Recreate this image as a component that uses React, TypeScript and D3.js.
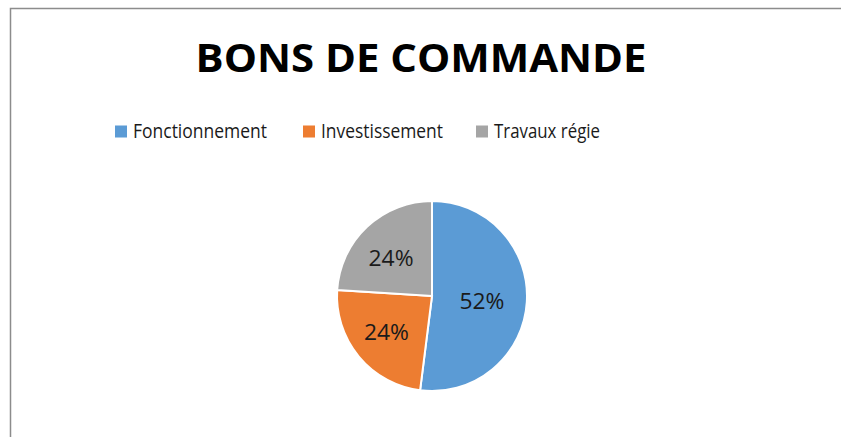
import React, { useRef, useEffect } from 'react';
import * as d3 from 'd3';

const categories = ['Fonctionnement', 'Investissement', 'Travaux régie'];
const values = [52, 24, 24];
const colors = ['#5B9BD5', '#ED7D31', '#A5A5A5'];
const title = 'BONS DE COMMANDE';

export default function App() {
  const svgRef = useRef<SVGSVGElement>(null);

  useEffect(() => {
    const width = 841;
    const height = 437;
    const svg = d3.select(svgRef.current);
    svg.selectAll('*').remove();
    svg.attr('width', width).attr('height', height);

    // chart frame (only top and left edges are visible in the crop)
    svg.append('rect').attr('width', width).attr('height', height).attr('fill', '#ffffff');
    svg.append('path')
      .attr('d', `M10.5,${height} V8.5 H${width}`)
      .attr('fill', 'none')
      .attr('stroke', '#8c8c8c')
      .attr('stroke-width', 1.5);

    // title
    svg.append('text')
      .attr('x', 421)
      .attr('y', 72)
      .attr('text-anchor', 'middle')
      .attr('font-family', '"Open Sans", sans-serif')
      .attr('font-weight', 700)
      .attr('font-size', 40)
      .attr('fill', '#000')
      .attr('textLength', 451)
      .attr('lengthAdjust', 'spacingAndGlyphs')
      .text(title);

    // legend
    const legendX = [115, 303, 476];
    const legendW = [134, 122, 106];
    const legend = svg.append('g');
    categories.forEach((c, i) => {
      legend.append('rect')
        .attr('x', legendX[i])
        .attr('y', 125.5)
        .attr('width', 12)
        .attr('height', 12)
        .attr('fill', colors[i]);
      legend.append('text')
        .attr('x', legendX[i] + 18)
        .attr('y', 138)
        .attr('font-family', '"Open Sans", sans-serif')
        .attr('font-size', 19.5)
        .attr('fill', '#1a1a1a')
        .attr('textLength', legendW[i])
        .attr('lengthAdjust', 'spacingAndGlyphs')
        .text(c);
    });

    // pie
    const cx = 432;
    const cy = 296;
    const r = 95;
    const pie = d3.pie<number>().sort(null).value(d => d);
    const arcs = pie(values);
    const arc = d3.arc<d3.PieArcDatum<number>>().innerRadius(0).outerRadius(r);
    const labelArc = d3.arc<d3.PieArcDatum<number>>().innerRadius(54).outerRadius(54);

    const g = svg.append('g').attr('transform', `translate(${cx},${cy})`);
    g.selectAll('path.slice')
      .data(arcs)
      .enter()
      .append('path')
      .attr('class', 'slice')
      .attr('d', arc)
      .attr('fill', (d, i) => colors[i])
      .attr('stroke', '#ffffff')
      .attr('stroke-width', 2);

    const total = d3.sum(values);
    g.selectAll('text.lbl')
      .data(arcs)
      .enter()
      .append('text')
      .attr('class', 'lbl')
      .attr('transform', d => {
        const [x, y] = labelArc.centroid(d);
        return `translate(${x - 4},${y + 2})`;
      })
      .attr('text-anchor', 'middle')
      .attr('dy', '0.36em')
      .attr('font-family', '"Open Sans", sans-serif')
      .attr('font-size', 21)
      .attr('fill', '#1a1a1a')
      .attr('textLength', 45)
      .attr('lengthAdjust', 'spacingAndGlyphs')
      .text(d => `${Math.round((d.value / total) * 100)}%`);
  }, []);

  return <svg ref={svgRef} style={{ position: 'absolute', left: 0, top: 0, display: 'block' }} />;
}
